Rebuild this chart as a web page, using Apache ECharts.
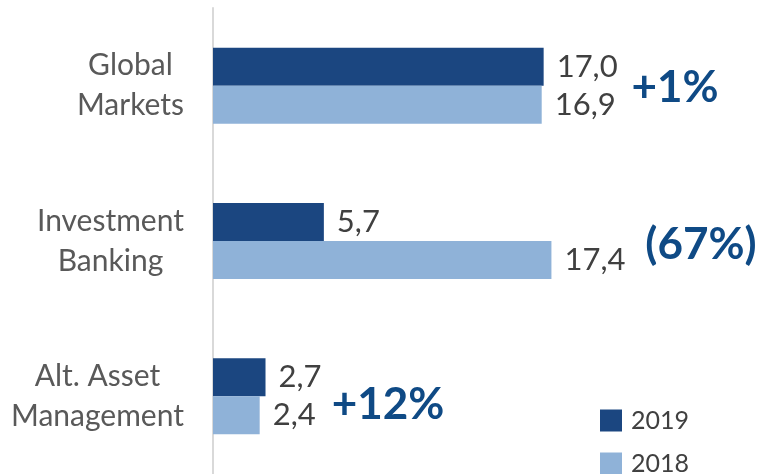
<!DOCTYPE html>
<html><head><meta charset="utf-8">
<script src="https://cdn.jsdelivr.net/npm/echarts@6/dist/echarts.min.js"></script>
<style>html,body{margin:0;padding:0;background:#fff}#c{width:760px;height:474px}</style>
</head><body><div id="c"></div>
<script>
const categories = ['Global\nMarkets', 'Investment\nBanking', 'Alt. Asset\nManagement'];
const seriesNames = ['2019', '2018'];
const values2019 = [17.0, 5.7, 2.7];
const values2018 = [16.9, 17.4, 2.4];
const changeLabels = ['+1%', '(67%)', '+12%'];

const dark = '#1b4680', light = '#8fb2d8', font = 'Lato';
const chart = echarts.init(document.getElementById('c'));
const fmt = p => p.value.toFixed(1).replace('.', ',');
const valueLabel = { show: true, position: 'right', distance: 13, fontFamily: font, fontSize: 31, color: '#404040', formatter: fmt };
const legendBase = { orient: 'vertical', left: 600, itemWidth: 22, itemHeight: 22, icon: 'rect', padding: 0,
  textStyle: { fontFamily: font, fontSize: 25, color: '#404040', padding: [0, 0, 0, 4] } };
chart.setOption({
  animation: false,
  grid: { left: 213, right: 158, top: 8, bottom: -7 },
  xAxis: { type: 'value', min: 0, max: 20, show: false },
  yAxis: {
    type: 'category', inverse: true, data: categories,
    axisLine: { show: true, lineStyle: { color: '#d9d9d9', width: 2 } },
    axisTick: { show: false },
    axisLabel: {
      margin: 29, fontFamily: font, fontSize: 30, color: '#595959', lineHeight: 40,
      formatter: v => v.split('\n').map(s => '{c|' + s + '}').join('\n'),
      rich: { c: { align: 'center', fontFamily: font, fontSize: 30, color: '#595959', lineHeight: 40 } }
    }
  },
  legend: [
    Object.assign({}, legendBase, { top: 408, data: [seriesNames[0]] }),
    Object.assign({}, legendBase, { top: 451, data: [seriesNames[1]] })
  ],
  series: [
    { name: seriesNames[0], type: 'bar', data: values2019, barWidth: 38, barGap: '0%', itemStyle: { color: dark }, label: valueLabel },
    { name: seriesNames[1], type: 'bar', data: values2018, barWidth: 38, barGap: '0%', itemStyle: { color: light }, label: valueLabel }
  ],
  graphic: [
    { type: 'text', x: 675, y: 88, style: { text: changeLabels[0], align: 'center', verticalAlign: 'middle', font: 'bold 44px Lato', fill: '#0f4a85' } },
    { type: 'text', x: 701, y: 245, style: { text: changeLabels[1], align: 'center', verticalAlign: 'middle', font: 'bold 44px Lato', fill: '#0f4a85' } },
    { type: 'text', x: 388, y: 405, style: { text: changeLabels[2], align: 'center', verticalAlign: 'middle', font: 'bold 44px Lato', fill: '#0f4a85' } }
  ]
});
</script></body></html>
